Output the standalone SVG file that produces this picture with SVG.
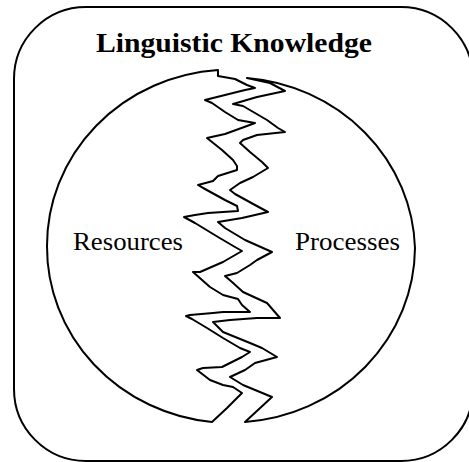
<svg xmlns="http://www.w3.org/2000/svg" width="469" height="462" viewBox="0 0 469 462">
<style>
.ln{fill:none;stroke:#000;stroke-width:2;stroke-linejoin:round;stroke-linecap:round}
.t{font-family:"Liberation Serif","Times New Roman",serif;fill:#000}
</style>
<rect width="469" height="462" fill="#fff"/>
<g id="frame">
<rect class="ln" x="14" y="7" width="459" height="454" rx="72" ry="72"/>
<text class="t" x="234" y="52" font-size="28" font-weight="bold" text-anchor="middle" textLength="276" lengthAdjust="spacingAndGlyphs">Linguistic Knowledge</text>
</g>
<g id="resources">
<path class="ln" d="M218,70 A184,176 0 0 0 47,246 A184,176 0 0 0 212,422 L227,408 L242,393 L233,387 L223,385 L210,380 L197,370 L203,368 L222,367 L242,357 L250,352 L240,348 L223,338 L207,328 L192,319 L186,316 L190,315 L213,313 L223,312 L250,312 L242,305 L238,299 L223,295 L210,287 L193,272 L200,272 L223,262 L242,251 L235,247 L218,237 L195,223 L184,217 L195,215 L208,213 L238,211 L237,206 L225,200 L205,189 L198,185 L213,181 L218,176 L237,170 L237,166 L233,160 L222,150 L207,138 L225,134 L247,126 L255,123 L238,120 L225,112 L212,103 L205,100 L213,98 L225,95 L245,90 L255,88 L247,85 L235,79 L218,76 Z"/>
<text class="t" x="73" y="250" font-size="26" textLength="110" lengthAdjust="spacingAndGlyphs">Resources</text>
</g>
<g id="processes">
<path class="ln" d="M247,78 L270,83 L285,91 L257,97 L240,102 L233,104 L243,106 L267,120 L278,128 L285,132 L257,135 L243,140 L240,143 L250,152 L262,162 L268,168 L253,177 L240,183 L230,190 L235,194 L255,205 L268,212 L242,218 L218,222 L225,228 L245,240 L272,252 L257,260 L250,265 L237,273 L225,276 L232,282 L243,292 L267,303 L280,318 L257,318 L230,320 L213,322 L223,332 L250,343 L262,348 L277,357 L255,363 L245,370 L230,377 L243,385 L272,397 L245,422 A184,176 0 0 0 415,248 A184,176 0 0 0 247,78 Z"/>
<text class="t" x="295" y="250" font-size="26" textLength="105" lengthAdjust="spacingAndGlyphs">Processes</text>
</g>
<g id="connectors"></g>
</svg>
